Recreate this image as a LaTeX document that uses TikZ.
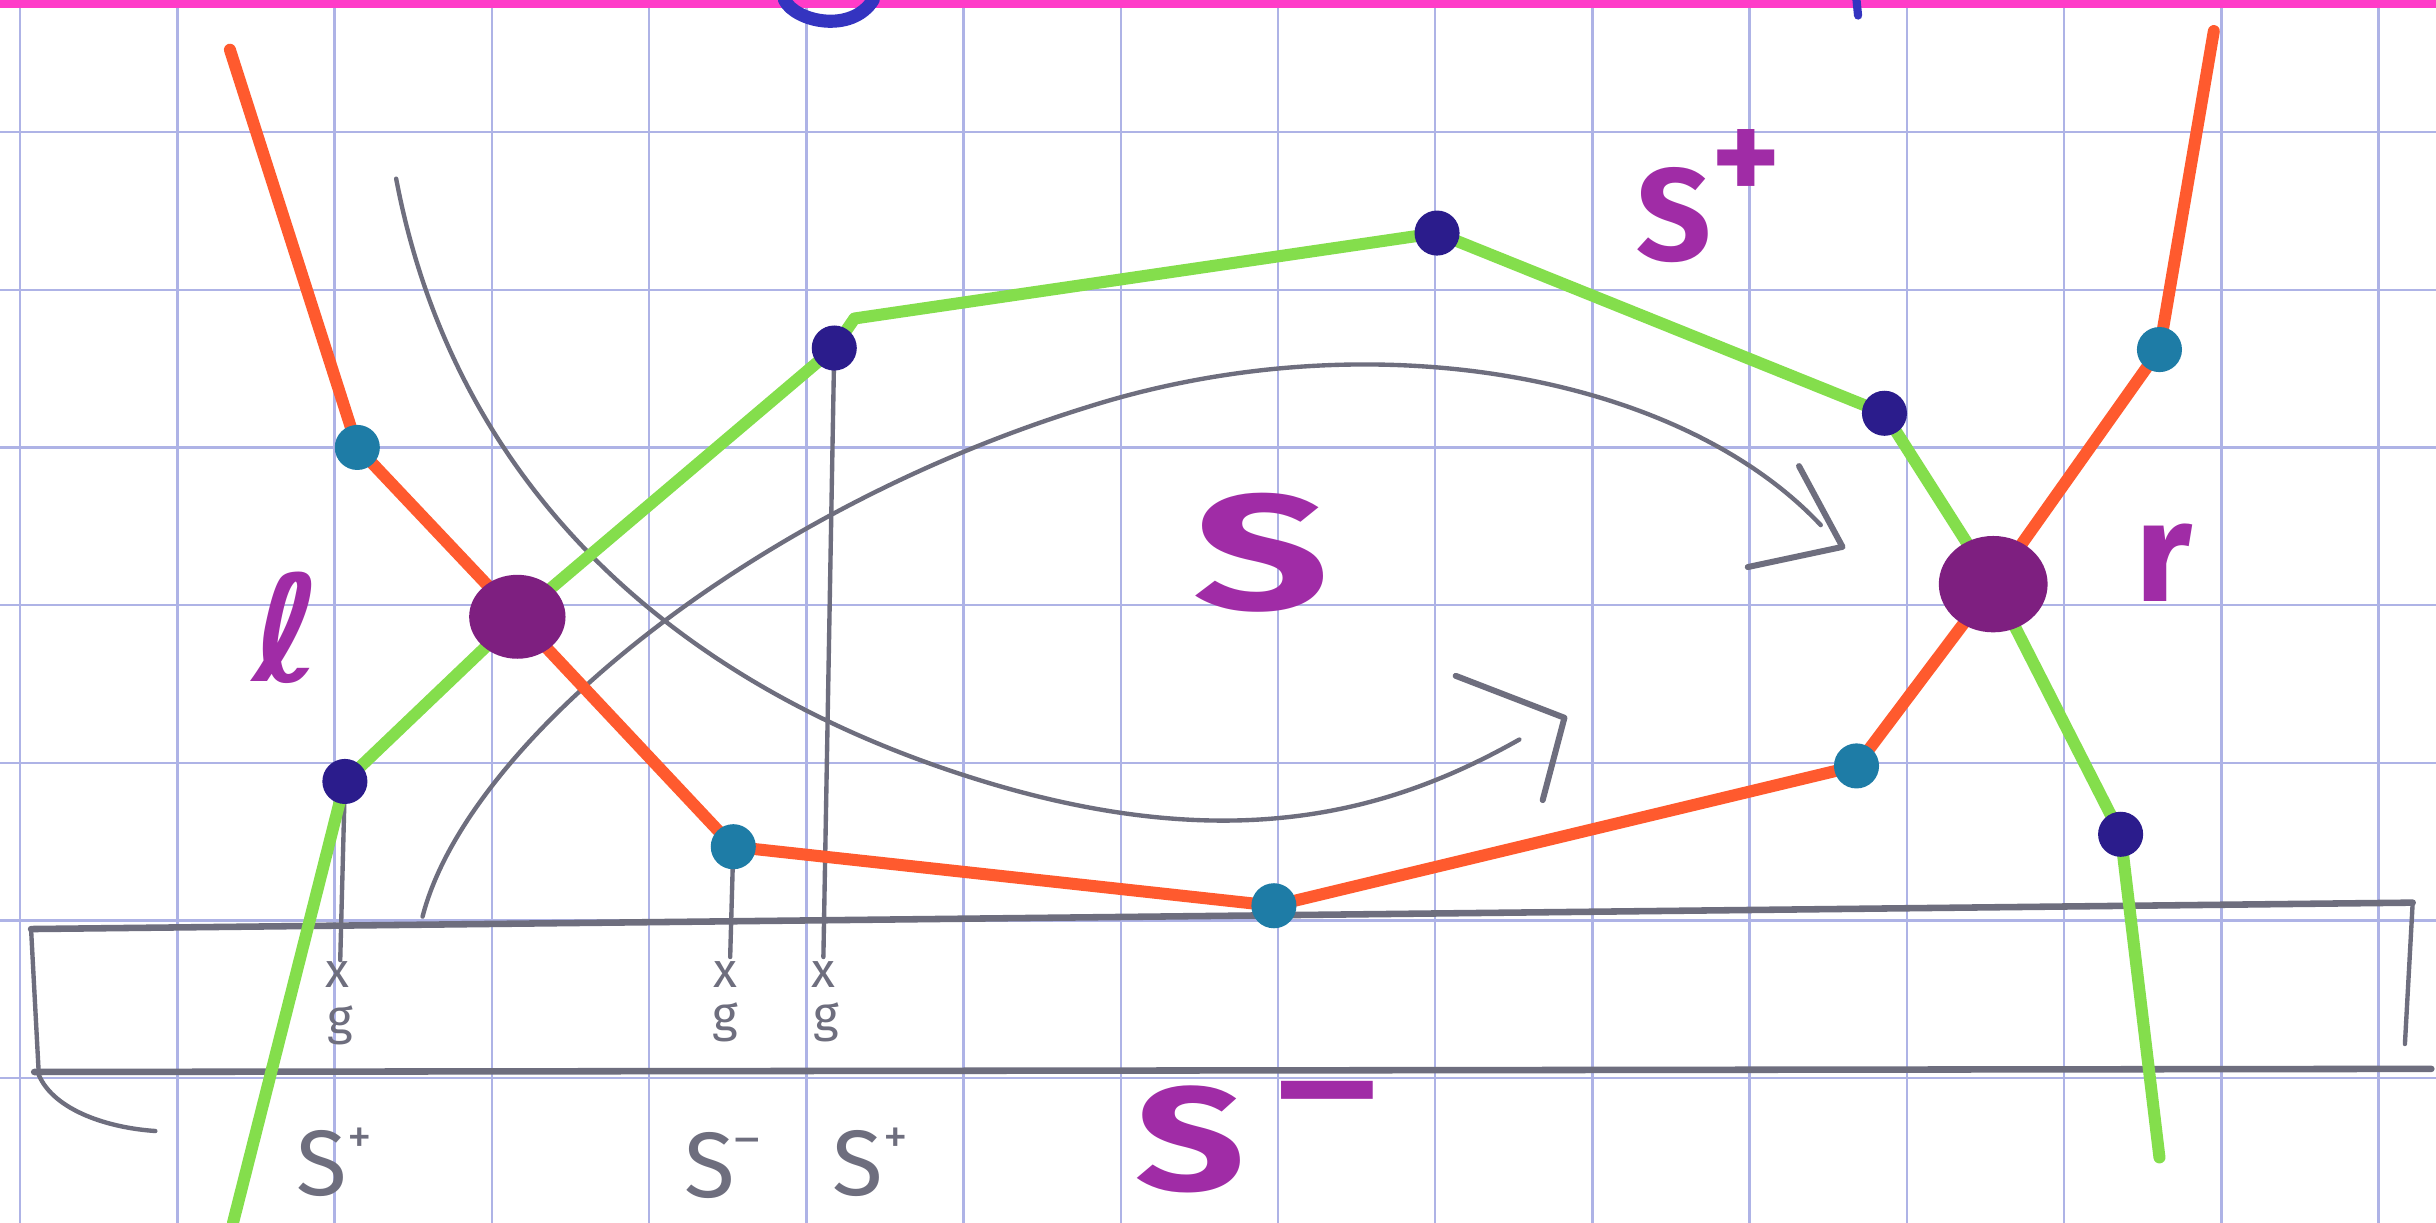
\documentclass[tikz,border=0pt]{standalone}
\usepackage{fontspec}
\setmainfont{Fira Sans}
\newfontfamily\djv{DejaVu Sans}
\usetikzlibrary{shapes.geometric}
\definecolor{gridc}{HTML}{AEB3E6}
\definecolor{orng}{HTML}{FF5A2E}
\definecolor{grn}{HTML}{84DE4C}
\definecolor{tealc}{HTML}{1E7CA6}
\definecolor{navyc}{HTML}{2B1C8C}
\definecolor{bigp}{HTML}{7E1F80}
\definecolor{labp}{HTML}{A02CA6}
\definecolor{pencil}{HTML}{6E6E7E}
\definecolor{mag}{HTML}{FF3CC8}
\definecolor{bluep}{HTML}{3434C0}
\tikzset{
  gridline/.style={gridc, line width=0.45pt},
  orangeline/.style={orng, line width=2.2pt, line cap=round, line join=round},
  greenline/.style={grn, line width=2.2pt, line cap=round, line join=round},
  tdot/.style={circle, fill=tealc, inner sep=0pt, minimum size=0.29cm},
  ndot/.style={circle, fill=navyc, inner sep=0pt, minimum size=0.29cm},
  bigdot/.style={ellipse, fill=bigp, inner sep=0pt},
  pencilline/.style={pencil, line width=0.8pt, line cap=round, line join=round},
  rectline/.style={pencil, line width=1.2pt, line cap=round},
  plabel/.style={text=labp, inner sep=0pt, font=\bfseries\fontsize{30}{30}\selectfont},
  glabel/.style={text=pencil, inner sep=0pt, font=\fontsize{17}{17}\selectfont},
  mlabel/.style={text=pencil, inner sep=0pt, font=\fontsize{9}{9}\selectfont},
}
\begin{document}
\begin{tikzpicture}[x=0.01cm,y=-0.01cm]
\useasboundingbox (0,0) rectangle (1568,787);
\fill[white] (0,0) rectangle (1568,787);
% grid
\foreach \i in {0,...,15} \draw[gridline] ({13+101.2*\i},0) -- ({13+101.2*\i},787);
\foreach \j in {0,...,6} \draw[gridline] (0,{85+101.5*\j}) -- (1568,{85+101.5*\j});
% top magenta band and blue marks
\fill[mag] (0,0) rectangle (1568,5);
\draw[bluep, line width=2.4pt, line cap=round] (505,0) .. controls (512,14) and (548,22) .. (562,0);
\draw[bluep, line width=1.5pt, line cap=round] (1195,0) -- (1196,10);
% coordinates
\coordinate (oA) at (148,32);
\coordinate (o1) at (230,288);
\coordinate (L) at (333,397);
\coordinate (o2) at (472,545);
\coordinate (o3) at (820,583);
\coordinate (o4) at (1195,493);
\coordinate (R) at (1283,376);
\coordinate (o5) at (1390,225);
\coordinate (oB) at (1425,20);
\coordinate (gA) at (150,787);
\coordinate (g1) at (222,503);
\coordinate (g2) at (537,224);
\coordinate (gk) at (550,205);
\coordinate (g3) at (925,150);
\coordinate (g4) at (1213,266);
\coordinate (g5) at (1365,537);
\coordinate (gB) at (1390,745);
% pencil box
\coordinate (b1) at (20,598);
\coordinate (b2) at (1553,581);
\coordinate (b3) at (1565,688);
\coordinate (b4) at (22,690);
\coordinate (b5) at (1548,672);
\coordinate (b6) at (100,728);
\draw[rectline] (b1) -- (b2);
\draw[rectline] (b4) -- (b3);
\draw[pencilline] (b1) -- (25,692) .. controls (35,715) and (70,726) .. (b6);
\draw[pencilline] (b2) -- (b5);
% pencil curves
\coordinate (c1s) at (255,115);
\coordinate (c1e) at (978,476);
\coordinate (c2s) at (272,590);
\coordinate (c2e) at (1172,338);
\draw[pencilline] (c1s) .. controls (290,300) and (420,440) .. (640,505) .. controls (800,552) and (900,520) .. (c1e);
\draw[pencilline] (c2s) .. controls (300,480) and (480,330) .. (700,262) .. controls (880,205) and (1080,240) .. (c2e);
\coordinate (h1a) at (937,435);
\coordinate (h1b) at (1007,462);
\coordinate (h1c) at (993,515);
\coordinate (h2a) at (1158,300);
\coordinate (h2b) at (1186,352);
\coordinate (h2c) at (1125,365);
\draw[pencilline, line width=1.1pt] (h1a) -- (h1b) -- (h1c);
\draw[pencilline, line width=1.1pt] (h2a) -- (h2b) -- (h2c);
% drop lines
\coordinate (d1) at (219,618);
\coordinate (d2) at (470,616);
\coordinate (d3) at (530,616);
\draw[pencilline] (g1) -- (d1);
\draw[pencilline] (o2) -- (d2);
\draw[pencilline] (g2) -- (d3);
% chains
\draw[orangeline] (oA) -- (o1) -- (L) -- (o2) -- (o3) -- (o4) -- (R) -- (o5) -- (oB);
\draw[greenline] (gA) -- (g1) -- (L) -- (g2) -- (gk) -- (g3) -- (g4) -- (R) -- (g5) -- (gB);
% dots
\node[tdot] (o1d) at (o1) {};
\node[tdot] (o2d) at (o2) {};
\node[tdot] (o3d) at (o3) {};
\node[tdot] (o4d) at (o4) {};
\node[tdot] (o5d) at (o5) {};
\node[ndot] (g1d) at (g1) {};
\node[ndot] (g2d) at (g2) {};
\node[ndot] (g3d) at (g3) {};
\node[ndot] (g4d) at (g4) {};
\node[ndot] (g5d) at (g5) {};
\node[bigdot, minimum width=0.62cm, minimum height=0.54cm] (Ld) at (L) {};
\node[bigdot, minimum width=0.7cm, minimum height=0.62cm] (Rd) at (R) {};
% purple labels
\node[plabel, xscale=1.45] (Slab) at (812,356) {S};
\node[plabel, font=\bfseries\fontsize{24}{24}\selectfont] (Splab) at (1100,126) {S\raisebox{0.45em}{+}};
\node[plabel, xscale=1.3, anchor=base west, font=\bfseries\fontsize{27}{27}\selectfont] (Smlab) at (730,766) {S\raisebox{0.36em}{\,--}};
\node[plabel, font=\djv\bfseries\fontsize{27}{27}\selectfont] (llab) at (185,404) {ℓ};
\node[plabel, font=\bfseries\fontsize{26}{26}\selectfont] (rlab) at (1393,362) {r};
% pencil labels
\node[mlabel] (x1) at (217,627) {x};
\node[mlabel] (y1) at (219,660) {g};
\node[mlabel] (x2) at (467,627) {x};
\node[mlabel] (y2) at (467,658) {g};
\node[mlabel] (x3) at (530,627) {x};
\node[mlabel] (y3) at (532,658) {g};
\node[glabel] (sp1) at (215,748) {S\raisebox{0.45em}{\small +}};
\node[glabel] (sm2) at (465,750) {S\raisebox{0.45em}{\small --}};
\node[glabel] (sp2) at (560,748) {S\raisebox{0.45em}{\small +}};
\end{tikzpicture}
\end{document}
